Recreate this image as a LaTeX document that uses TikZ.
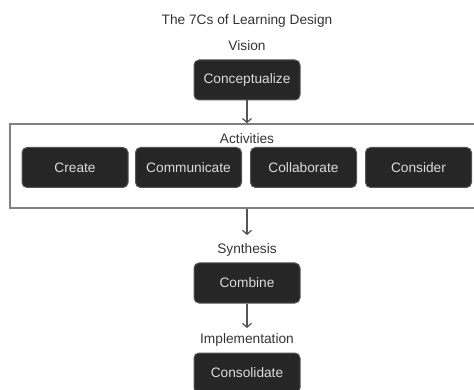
\documentclass[tikz,border=0pt]{standalone}
\usepackage{fontspec}
\setmainfont{Liberation Sans}
\usetikzlibrary{arrows.meta, positioning}
\definecolor{cdark}{HTML}{262626}
\definecolor{cline}{HTML}{555555}
\definecolor{cframe}{HTML}{808080}
\definecolor{ctext}{HTML}{333333}
\definecolor{clight}{HTML}{DCDCDC}
\tikzset{
  every picture/.style={line width=1pt},
  cbox/.style={draw=cline, fill=cdark, text=clight, rounded corners=5pt, minimum width=106pt, minimum height=40pt, inner sep=0pt, font=\fontsize{13.7}{16}\selectfont},
  stage/.style={text=ctext, inner sep=0pt, font=\fontsize{13.7}{16}\selectfont},
  arrow/.style={-{Straight Barb[length=4pt, width=9pt]}, draw=cline, line width=1.2pt},
}
\begin{document}
\begin{tikzpicture}[x=1pt, y=-1pt]
  \useasboundingbox (0,0) rectangle (474,390);
  % heading
  \node[stage] (title) at (247,21) {The 7Cs of Learning Design};
  \node[stage] (vision) at (247,46) {Vision};
  \node[cbox] (concept) at (247,80) {Conceptualize};
  % activities frame
  \node[draw=cframe, line width=1.4pt, minimum width=474pt, minimum height=84pt, inner sep=0pt] (acts) at (247,166) {};
  \node[stage] (actlabel) at (247,139) {Activities};
  \node[cbox] (create) at (75,167.5) {Create};
  \node[cbox] (communicate) at (188.5,167.5) {Communicate};
  \node[cbox] (collaborate) at (303.5,167.5) {Collaborate};
  \node[cbox] (consider) at (418.5,167.5) {Consider};
  % synthesis and implementation
  \node[stage] (synth) at (247,250) {Synthesis};
  \node[cbox] (combine) at (247,283) {Combine};
  \node[stage] (impl) at (247,340) {Implementation};
  \node[cbox] (consolidate) at (247,373) {Consolidate};
  % arrows
  \draw[arrow] (concept.south) -- (acts.north);
  \draw[arrow, shorten >=8pt] (acts.south) -- (synth.north);
  \draw[arrow, shorten >=5pt] (combine.south) -- (impl.north);
\end{tikzpicture}
\end{document}
